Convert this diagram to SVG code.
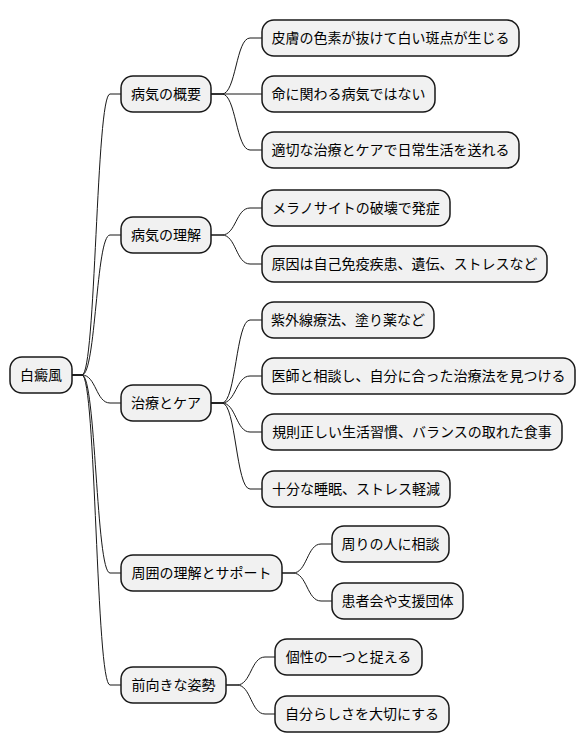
<svg xmlns="http://www.w3.org/2000/svg" width="586" height="752" viewBox="0 0 586 752">
<style>
.n rect{fill:#F1F1F1;stroke:#181818;stroke-width:1.5}
.n text{font-family:"Noto Sans CJK JP","Noto Sans",sans-serif;font-size:14px;fill:#000;text-anchor:middle}
.c path{fill:none;stroke:#181818;stroke-width:1}
</style>
<rect width="586" height="752" fill="#FFFFFF"/>
<g class="c" id="connectors">
<path d="M72,375 L82,375 C96,375 96,94 110,94 L121,94"/>
<path d="M72,375 L82,375 C96,375 96,235 110,235 L121,235"/>
<path d="M72,375 L82,375 C96,375 96,403 110,403 L121,403"/>
<path d="M72,375 L82,375 C96,375 96,573 110,573 L121,573"/>
<path d="M72,375 L82,375 C96,375 96,685 110,685 L121,685"/>
<path d="M211,94 L222,94 C236,94 236,38 250,38 L262,38"/>
<path d="M211,94 L222,94 L262,94"/>
<path d="M211,94 L222,94 C236,94 236,150 250,150 L262,150"/>
<path d="M211,235 L222,235 C236,235 236,208 250,208 L262,208"/>
<path d="M211,235 L222,235 C236,235 236,264 250,264 L262,264"/>
<path d="M211,403 L222,403 C236,403 236,320 250,320 L262,320"/>
<path d="M211,403 L222,403 C236,403 236,376 250,376 L262,376"/>
<path d="M211,403 L222,403 C236,403 236,432 250,432 L262,432"/>
<path d="M211,403 L222,403 C236,403 236,489 250,489 L262,489"/>
<path d="M282,573 L293,573 C307,573 307,544 321,544 L332,544"/>
<path d="M282,573 L293,573 C307,573 307,601 321,601 L332,601"/>
<path d="M226,685 L237,685 C251,685 251,657 265,657 L275,657"/>
<path d="M226,685 L237,685 C251,685 251,714 265,714 L275,714"/>
</g>
<g class="n" id="root"><rect x="10" y="357" width="62" height="36" rx="12"/><text x="41" y="380">白癜風</text></g>
<g class="n" id="n1"><rect x="121" y="76" width="90" height="36" rx="12"/><text x="166" y="99">病気の概要</text></g>
<g class="n" id="n2"><rect x="121" y="217" width="90" height="36" rx="12"/><text x="166" y="240">病気の理解</text></g>
<g class="n" id="n3"><rect x="121" y="385" width="90" height="36" rx="12"/><text x="166" y="408">治療とケア</text></g>
<g class="n" id="n4"><rect x="121" y="555" width="161" height="36" rx="12"/><text x="201.5" y="578">周囲の理解とサポート</text></g>
<g class="n" id="n5"><rect x="121" y="667" width="105" height="36" rx="12"/><text x="173.5" y="690">前向きな姿勢</text></g>
<g class="n" id="n1a"><rect x="262" y="20" width="257" height="36" rx="12"/><text x="390.5" y="43">皮膚の色素が抜けて白い斑点が生じる</text></g>
<g class="n" id="n1b"><rect x="262" y="76" width="173" height="36" rx="12"/><text x="348.5" y="99">命に関わる病気ではない</text></g>
<g class="n" id="n1c"><rect x="262" y="132" width="257" height="36" rx="12"/><text x="390.5" y="155">適切な治療とケアで日常生活を送れる</text></g>
<g class="n" id="n2a"><rect x="262" y="190" width="188" height="36" rx="12"/><text x="356" y="213">メラノサイトの破壊で発症</text></g>
<g class="n" id="n2b"><rect x="262" y="246" width="285" height="36" rx="12"/><text x="404.5" y="269">原因は自己免疫疾患、遺伝、ストレスなど</text></g>
<g class="n" id="n3a"><rect x="262" y="302" width="172" height="36" rx="12"/><text x="348" y="325">紫外線療法、塗り薬など</text></g>
<g class="n" id="n3b"><rect x="262" y="358" width="313" height="36" rx="12"/><text x="418.5" y="381">医師と相談し、自分に合った治療法を見つける</text></g>
<g class="n" id="n3c"><rect x="262" y="414" width="300" height="36" rx="12"/><text x="412" y="437">規則正しい生活習慣、バランスの取れた食事</text></g>
<g class="n" id="n3d"><rect x="262" y="471" width="188" height="36" rx="12"/><text x="356" y="494">十分な睡眠、ストレス軽減</text></g>
<g class="n" id="n4a"><rect x="332" y="526" width="117" height="36" rx="12"/><text x="390.5" y="549">周りの人に相談</text></g>
<g class="n" id="n4b"><rect x="332" y="583" width="131" height="36" rx="12"/><text x="397.5" y="606">患者会や支援団体</text></g>
<g class="n" id="n5a"><rect x="275" y="639" width="147" height="36" rx="12"/><text x="348.5" y="662">個性の一つと捉える</text></g>
<g class="n" id="n5b"><rect x="275" y="696" width="174" height="36" rx="12"/><text x="362" y="719">自分らしさを大切にする</text></g>
</svg>
